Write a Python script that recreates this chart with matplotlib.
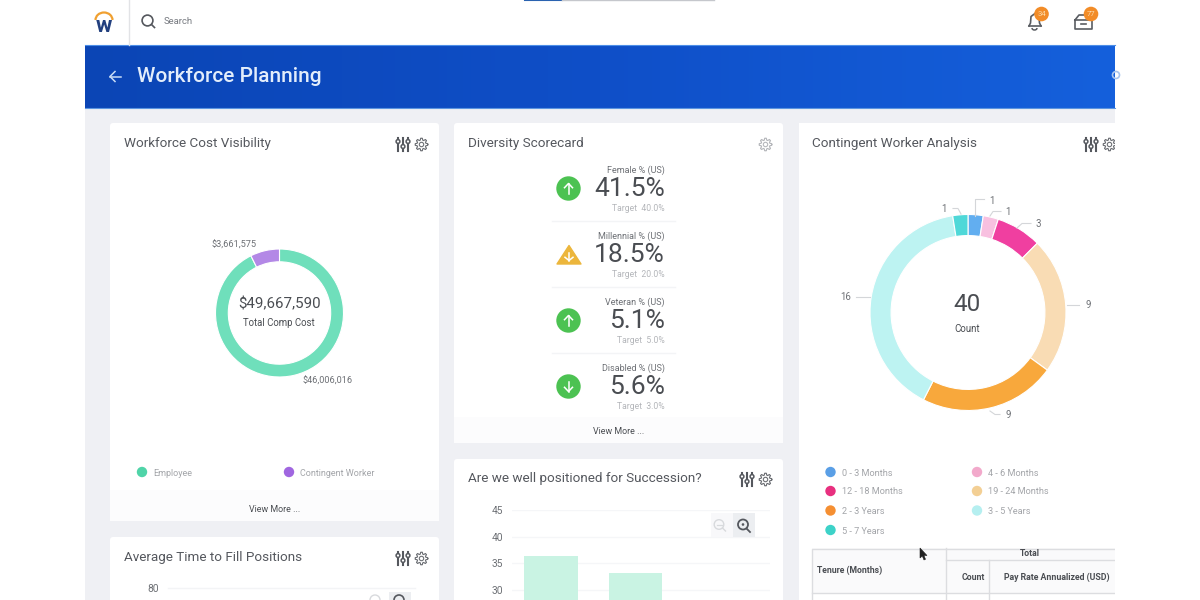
import matplotlib
matplotlib.use("Agg")
import matplotlib.pyplot as plt
import numpy as np
from matplotlib.patches import FancyBboxPatch, Circle, Polygon, Rectangle, Arc

plt.rcParams['font.family'] = ['Roboto', 'DejaVu Sans']

# data
costLabels = ["Employee", "Contingent Worker"]
costValues = [46006016, 3661575]
costColors = ['#6fdfbb', '#b388e6']
costLegendColors = ['#4fd4a8', '#a066e0']

tenureLabels = ["0 - 3 Months", "4 - 6 Months", "12 - 18 Months", "19 - 24 Months",
                "2 - 3 Years", "3 - 5 Years", "5 - 7 Years"]
tenureValues = [1, 1, 3, 9, 9, 16, 1]
tenureColors = ['#62aef0', '#f8c0e0', '#f03fa0', '#f9dcb4', '#f8a83c', '#bdf3f2', '#4fd8d8']
tenureLegendColors = ['#5a9fe6', '#f2a9cb', '#e8307f', '#f3cf94', '#f58f32', '#b5eff0', '#3dd2c8']

scoreNames = ["Female % (US)", "Millennial % (US)", "Veteran % (US)", "Disabled % (US)"]
scoreValues = ["41.5%", "18.5%", "5.1%", "5.6%"]
scoreTargets = ["Target  40.0%", "Target  20.0%", "Target  5.0%", "Target  3.0%"]
scoreIcons = ["up", "warn", "up", "down"]

successionCats = ["A", "B"]
successionValues = [36.3, 33.2]
successionTicks = [30, 35, 40, 45]

TITLE = '#55585e'
DARK = '#4a4d52'
MID = '#6d7075'
LIGHT = '#b4b6ba'
LEG = '#a3a5a9'


def label(a, x, y, s, **kw):
    # roboto sits about a pixel high with va=center
    return a.text(x, y + 1, s, va='center', **kw)


def card(ax, x0, y0, x1, y1):
    ax.add_patch(FancyBboxPatch((x0 + 3, y0 + 3), x1 - x0 - 6, y1 - y0 - 6,
                                boxstyle="round,pad=3,rounding_size=3",
                                fc='white', ec='none', zorder=1))


def sliders(ax, x, y):
    for dx, dy in zip((-5, 0, 5), (-2.5, 2.5, -2.5)):
        ax.plot([x + dx, x + dx], [y - 6.5, y + 6.5], color='#55585e', lw=1.5, zorder=3)
        ax.add_patch(Circle((x + dx, y + dy), 1.9, fc='white', ec='#55585e', lw=1.1, zorder=4))


def gear(ax, x, y, color='#6d7075'):
    # outline with eight teeth
    t = np.linspace(0, 2 * np.pi, 97)
    r = 5.4 + 0.9 * np.clip(3 * np.cos(8 * t), -1, 1)
    ax.plot(x + r * np.cos(t), y + r * np.sin(t), color=color, lw=0.8, zorder=3)
    ax.add_patch(Circle((x, y), 2.2, fc='none', ec=color, lw=0.8, zorder=3))


def arrowIcon(ax, x, y, up=True, size=5.0):
    s = -1 if up else 1
    ax.plot([x, x], [y - s * size, y + s * size], color='white', lw=1.1, zorder=5)
    ax.plot([x - 4, x, x + 4], [y + s * 0.8, y + s * size, y + s * 0.8], color='white', lw=1.1, zorder=5)


def donut(rect, values, colors, widthFrac):
    a = fig.add_axes(rect)
    a.pie(values, colors=colors, startangle=90, counterclock=False, radius=1,
          wedgeprops=dict(width=widthFrac, edgecolor='white', linewidth=0.8))
    a.set_xlim(-1, 1)
    a.set_ylim(-1, 1)
    a.set_zorder(3)
    return a


def pxRect(x0, y0, x1, y1):
    return [x0 / 1200, 1 - y1 / 600, (x1 - x0) / 1200, (y1 - y0) / 600]


fig = plt.figure(figsize=(12, 6), dpi=100, facecolor='white')
ax = fig.add_axes([0, 0, 1, 1])
ax.set_xlim(0, 1200)
ax.set_ylim(600, 0)
ax.axis('off')

# page background and header
ax.add_patch(Rectangle((85, 108), 1030, 492, fc='#eff0f4', ec='none', zorder=0))
grad = np.linspace(0, 1, 256).reshape(1, -1)
ax.imshow(grad, extent=(85, 1115, 108, 45), aspect='auto', zorder=1,
          cmap=matplotlib.colors.LinearSegmentedColormap.from_list('hdr', ['#0b45b5', '#0f4fc8', '#1560dc']))
ax.set_xlim(0, 1200)
ax.set_ylim(600, 0)
ax.plot([85, 1115], [45, 45], color='#4d8fe8', lw=0.8, zorder=2)
ax.plot([85, 1115], [108, 108], color='#5c95e0', lw=0.8, zorder=2)
label(ax, 137, 76, "Workforce Planning", color='#e3edfb', fontsize=15, fontweight='medium', zorder=3)
ax.plot([110, 121], [76.5, 76.5], color='#c9dcf6', lw=1.1, zorder=3)
ax.plot([115, 110, 115], [71.5, 76.5, 81.5], color='#c9dcf6', lw=1.1, zorder=3)
ax.add_patch(Circle((1116, 75), 3.5, fc='none', ec='#a8c4ee', lw=1.2, zorder=3))

# top bar
ax.plot([128.5, 128.5], [0, 45], color='#e2e3e6', lw=1)
ax.plot([525, 562], [0.4, 0.4], color='#2a62b0', lw=1.5)
ax.plot([562, 714], [0.4, 0.4], color='#c5c7cc', lw=1)
ax.add_patch(Arc((104, 20), 17, 15, theta1=180, theta2=360, color='#f0a030', lw=1.6))
label(ax, 104.2, 24.5, "w", color='#23407f', fontsize=16, fontweight='bold', ha='center')
ax.add_patch(Circle((147.5, 20.5), 5.4, fc='none', ec='#55585e', lw=1.2))
ax.plot([151.5, 154.5], [24.5, 27.5], color='#55585e', lw=1.2)
label(ax, 164, 20.5, "Search", color='#777a80', fontsize=6.8)

# bell
ax.plot([1029, 1030.5, 1031, 1035, 1039, 1039.5, 1041],
        [26, 23, 16.5, 13.5, 16.5, 23, 26], color='#5a5d62', lw=1.2)
ax.plot([1029, 1041], [26, 26], color='#5a5d62', lw=1.2)
ax.add_patch(Arc((1034.5, 28), 5, 4, theta1=0, theta2=180, color='#5a5d62', lw=1.1))
ax.add_patch(Circle((1041.5, 14), 7.3, fc='#f28c28', ec='none', zorder=3))
label(ax, 1041.5, 13.5, "34", color='#fbd9a8', fontsize=5.5, ha='center', zorder=4)
# inbox
ax.plot([1075, 1075, 1092, 1092, 1075], [20, 28.5, 28.5, 20, 20], color='#5a5d62', lw=1.2)
ax.plot([1075, 1079, 1088, 1092], [20, 15, 15, 20], color='#5a5d62', lw=1.2)
ax.plot([1081, 1086], [23.5, 23.5], color='#5a5d62', lw=1.2)
ax.add_patch(Circle((1091, 14), 7.3, fc='#f28c28', ec='none', zorder=3))
label(ax, 1091, 13.5, "77", color='#fbd9a8', fontsize=5.5, ha='center', zorder=4)

# cards
card(ax, 110, 123, 439, 521)
card(ax, 454, 123, 783, 443)
card(ax, 799, 123, 1118, 603)
card(ax, 454, 459, 783, 603)
card(ax, 110, 537, 439, 603)
ax.add_patch(Rectangle((799, 123), 316, 480, fc='white', ec='none', zorder=1))
ax.add_patch(Rectangle((1115, 108), 85, 492, fc='white', ec='none', zorder=1.5))

# card titles
for x, y, t in [(123.5, 142.5, "Workforce Cost Visibility"), (467.5, 142.5, "Diversity Scorecard"),
                (812, 142.5, "Contingent Worker Analysis"), (467.5, 477.5, "Are we well positioned for Succession?"),
                (123.5, 556, "Average Time to Fill Positions")]:
    label(ax, x, y, t, color=TITLE, fontsize=9.7, zorder=3)
for x, y in [(403, 144), (747, 479), (403, 558), (1091, 144)]:
    sliders(ax, x, y)
for x, y in [(421.5, 144.5), (765.5, 479.5), (421.5, 558.5), (1109.5, 144.5)]:
    gear(ax, x, y)
gear(ax, 765.5, 144.5, '#b5b7bb')

# Workforce Cost Visibility
donut(pxRect(215.5, 249, 343.5, 377), costValues, costColors, 0.2)
ax2 = fig.add_axes([0, 0, 1, 1], zorder=5)
ax2.set_xlim(0, 1200)
ax2.set_ylim(600, 0)
ax2.axis('off')
label(ax2, 279.5, 303.5, "$49,667,590", color=DARK, fontsize=10.9, ha='center')
label(ax2, 279, 322, "Total Comp Cost", color=DARK, fontsize=6.9, ha='center')
label(ax2, 233.5, 244, "$3,661,575", color=MID, fontsize=6.6, ha='center')
label(ax2, 327.5, 380.5, "$46,006,016", color=MID, fontsize=6.6, ha='center')
for x, lab, c in zip((142, 289), costLabels, costLegendColors):
    ax.add_patch(Circle((x, 472), 5.2, fc=c, ec='none', zorder=3))
    label(ax, x + 11, 472, lab, color=LEG, fontsize=6.5, zorder=3)
ax.add_patch(Rectangle((110, 490), 329, 31, fc='#fcfcfd', ec='none', zorder=2))
label(ax, 274.5, 509, "View More ...", color=DARK, fontsize=6.4, ha='center', zorder=3)

# Diversity Scorecard
rowY = [188.5, 254.5, 320.5, 386.5]
for y, name, val, tgt, icon in zip(rowY, scoreNames, scoreValues, scoreTargets, scoreIcons):
    label(ax, 664.5, y - 19.5, name, color=MID, fontsize=6.5, ha='right', zorder=3)
    label(ax, 665, y, val, color=DARK, fontsize=19, ha='right', zorder=3)
    label(ax, 664.5, y + 19, tgt, color=LIGHT, fontsize=6.2, ha='right', zorder=3)
    if icon == "warn":
        ax.add_patch(Polygon([[569, y - 9], [557, y + 9.5], [581, y + 9.5]], closed=True,
                             fc='#ecb63c', ec='#ecb63c', lw=1, joinstyle='round', zorder=3))
        arrowIcon(ax, 569, y + 2, up=False, size=4)
    else:
        ax.add_patch(Circle((568.5, y), 12.2, fc='#4cc252', ec='none', zorder=3))
        arrowIcon(ax, 568.5, y, up=icon == "up")
for y in (221, 287, 353):
    ax.plot([552, 675], [y, y], color='#f3f4f6', lw=1, zorder=2)
ax.add_patch(Rectangle((454, 417), 329, 26, fc='#fcfcfd', ec='none', zorder=2))
label(ax, 618.5, 430.5, "View More ...", color=DARK, fontsize=6.4, ha='center', zorder=3)

# Succession bars
bx = fig.add_axes(pxRect(512, 510, 770, 600), zorder=2)
bx.patch.set_alpha(0)
bx.bar(np.arange(len(successionCats)), successionValues, width=0.633, color='#c9f3e3', zorder=2)
bx.set_xlim(-0.46, 2.59)
bx.set_ylim(28.15, 45)
bx.set_yticks(successionTicks)
bx.set_xticks([])
bx.grid(axis='y', color='#f5f6f8', lw=1, zorder=1)
bx.tick_params(axis='y', length=0, pad=6.5, labelsize=7.4, labelcolor=MID)
for s in bx.spines.values():
    s.set_visible(False)

# zoom buttons over the chart
ax2.add_patch(Rectangle((711, 513), 23, 24, fc='#f8f8fa', ec='none'))
ax2.add_patch(Rectangle((733, 513), 22, 24, fc='#eceef1', ec='none'))
ax2.add_patch(Circle((719, 524.5), 4.8, fc='none', ec='#d8dadd', lw=1))
ax2.plot([716.5, 721.5], [524.5, 524.5], color='#d8dadd', lw=0.9)
ax2.plot([722.5, 725.5], [528, 531], color='#d8dadd', lw=1)
ax2.add_patch(Circle((743, 524.5), 5, fc='none', ec='#55585e', lw=1.3))
ax2.add_patch(Circle((743, 524.5), 1.3, fc='#55585e', ec='none'))
ax2.plot([746.5, 750], [528.5, 532], color='#55585e', lw=1.3)

# Average Time chart (only the top tick is visible)
ax.plot([168, 415], [588, 588], color='#f3f4f6', lw=1, zorder=2)
label(ax, 153, 587.5, "80", color=MID, fontsize=7.4, ha='center', zorder=3)
ax.add_patch(Rectangle((389, 592), 22, 8, fc='#eceef1', ec='none', zorder=3))
ax.add_patch(Arc((399, 600), 10, 10, theta1=180, theta2=360, color='#55585e', lw=1.2, zorder=4))
ax.add_patch(Arc((375, 600), 10, 10, theta1=180, theta2=360, color='#d8dadd', lw=1, zorder=4))

# Contingent Worker Analysis
donut(pxRect(870, 214.5, 1066, 410.5), tenureValues, tenureColors, 0.215)
label(ax2, 967.5, 303.5, "40", color=DARK, fontsize=17.5, ha='center')
label(ax2, 967.5, 327.5, "Count", color=DARK, fontsize=7, ha='center')
calloutLabels = [("1", 992, 199.5), ("1", 1008, 211), ("3", 1038, 223), ("9", 1088, 304),
                 ("9", 1008, 414), ("16", 845.5, 296), ("1", 943.5, 208)]
for lab, x, y in calloutLabels:
    label(ax2, x, y, lab, color=MID, fontsize=6.9, ha='center')
leaders = [([975, 975, 984], [216, 199, 199]), ([990, 993, 1001], [216, 211.5, 211.5]),
           ([1017, 1022, 1031], [228, 223.5, 223.5]), ([1067, 1079], [304.5, 304.5]),
           ([990, 995, 1000], [411, 414.5, 414.5]), ([856, 870], [296.5, 296.5]),
           ([953, 958, 961], [208.5, 208.5, 214])]
for xs, ys in leaders:
    ax2.plot(xs, ys, color='#d4d6d9', lw=0.8)

legendXY = [(830.5, 472), (977, 472), (830.5, 491), (977, 491), (830.5, 510.5), (977, 510.5), (830.5, 530)]
for (x, y), lab, c in zip(legendXY, tenureLabels, tenureLegendColors):
    ax.add_patch(Circle((x, y), 5.2, fc=c, ec='none', zorder=3))
    label(ax, x + 11, y, lab, color=LEG, fontsize=6.6, zorder=3)

# table header
tc = '#dcdde0'
ax.add_patch(Rectangle((812, 548), 303, 52, fc='#fafafb', ec='none', zorder=2))
ax.add_patch(Rectangle((812, 593), 303, 7, fc='white', ec='none', zorder=2))
ax.plot([1115, 812, 812], [548.5, 548.5, 600], color=tc, lw=1, zorder=3)
ax.plot([812, 1115], [592.5, 592.5], color=tc, lw=1, zorder=3)
ax.plot([946, 946], [548, 600], color=tc, lw=1, zorder=3)
ax.plot([946, 1115], [559.5, 559.5], color=tc, lw=1, zorder=3)
ax.plot([989, 989], [559.5, 600], color=tc, lw=1, zorder=3)
label(ax, 817, 569.5, "Tenure (Months)", color=DARK, fontsize=6.2, fontweight='bold', zorder=4)
label(ax, 1030, 553, "Total", color=DARK, fontsize=6.2, fontweight='bold', ha='center', zorder=4)
label(ax, 985, 576, "Count", color=DARK, fontsize=6.2, fontweight='bold', ha='right', zorder=4)
label(ax, 1109.5, 576, "Pay Rate Annualized (USD)", color=DARK, fontsize=6.3, fontweight='bold', ha='right', zorder=4)

# mouse cursor
ax2.add_patch(Polygon([[920, 548], [920, 558], [922.3, 556], [924, 560], [925.5, 559.3], [924, 555.5], [927, 555.5]],
                      closed=True, fc='#222222', ec='#222222', lw=0.4))

# page is cut off at the right edge
ax2.add_patch(Rectangle((1115, 109), 85, 491, fc='white', ec='none'))

fig.savefig("out.png", dpi=100)
